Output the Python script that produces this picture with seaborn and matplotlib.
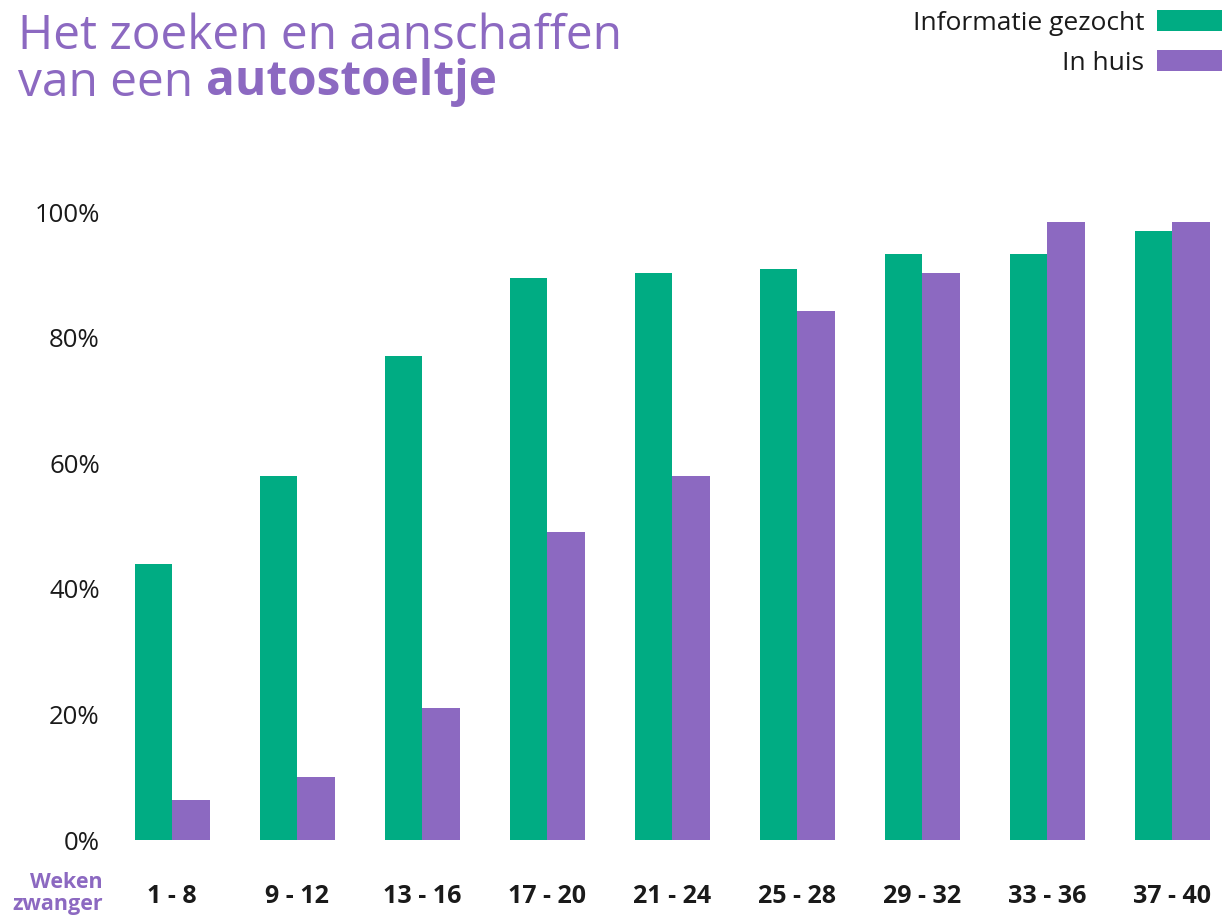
import matplotlib
matplotlib.use("Agg")
import matplotlib.pyplot as plt
import seaborn as sns
import pandas as pd

categories = ["1 - 8", "9 - 12", "13 - 16", "17 - 20", "21 - 24",
              "25 - 28", "29 - 32", "33 - 36", "37 - 40"]
informatie = [44, 58, 77, 89.5, 90.3, 91, 93.3, 93.3, 97]
in_huis = [6.3, 10, 21, 49, 58, 84.3, 90.3, 98.4, 98.4]
series_names = ["Informatie gezocht", "In huis"]
yticks = [0, 20, 40, 60, 80, 100]
ytick_labels = ["0%", "20%", "40%", "60%", "80%", "100%"]

GREEN = "#00AC83"
PURPLE = "#8C69C1"
TEXT = "#1a1a1a"

df = pd.DataFrame({
    "cat": categories * 2,
    "serie": [series_names[0]] * len(categories) + [series_names[1]] * len(categories),
    "val": informatie + in_huis,
})

sns.set_theme(style="white")
plt.rcParams["font.family"] = ["Open Sans", "DejaVu Sans"]

W, H = 1225, 916
fig = plt.figure(figsize=(W / 100, H / 100), dpi=100)
ax_left, ax_right = 109.5, 1225
ax_top, ax_bot = 212, 840
ax = fig.add_axes([ax_left / W, (H - ax_bot) / H, (ax_right - ax_left) / W, (ax_bot - ax_top) / H])

sns.barplot(data=df, x="cat", y="val", hue="serie", order=categories,
            hue_order=series_names, palette=[GREEN, PURPLE], saturation=1,
            width=0.6, gap=0, linewidth=0, ax=ax)

ax.set_ylim(0, 100)
ax.set_xlim(-0.5, 8.424)
for s in ax.spines.values():
    s.set_visible(False)
ax.set_xlabel("")
ax.set_ylabel("")
ax.set_yticks(yticks)
ax.set_yticklabels(ytick_labels, fontsize=18.5, color=TEXT)
ax.tick_params(axis="y", length=0, pad=7)
ax.tick_params(axis="x", length=0, pad=32)
for lbl in ax.get_xticklabels():
    lbl.set_fontsize(18)
    lbl.set_fontweight("bold")
    lbl.set_color(TEXT)
ax.grid(False)

# legend
handles, labels = ax.get_legend_handles_labels()
ax.legend(handles, labels, loc="upper right", bbox_to_anchor=(1222 / W, 1 - 10 / H),
          bbox_transform=fig.transFigure, frameon=False, markerfirst=False,
          fontsize=19, handlelength=2.45, handleheight=0.84, handletextpad=0.5,
          labelspacing=0.55, borderpad=0, borderaxespad=0, labelcolor=TEXT)

# title
t1 = fig.text(18 / W, 1 - 49 / H, "Het zoeken en aanschaffen", fontsize=34.4,
              fontweight="normal", color=PURPLE, ha="left", va="baseline")
t2 = fig.text(18 / W, 1 - 96 / H, "van een", fontsize=34.4,
              fontweight="normal", color=PURPLE, ha="left", va="baseline")
fig.canvas.draw()
ax.annotate("autostoeltje", xy=(1, 0), xycoords=t2, xytext=(9, 0),
            textcoords="offset points", fontsize=34.4, fontweight="bold",
            color=PURPLE, ha="left", va="bottom", annotation_clip=False)

# axis caption
fig.text(103 / W, 1 - 888 / H, "Weken", fontsize=15.5, fontweight="bold",
         color=PURPLE, ha="right", va="baseline")
fig.text(103 / W, 1 - 910 / H, "zwanger", fontsize=15.5, fontweight="bold",
         color=PURPLE, ha="right", va="baseline")

fig.savefig("out.png", dpi=100)
